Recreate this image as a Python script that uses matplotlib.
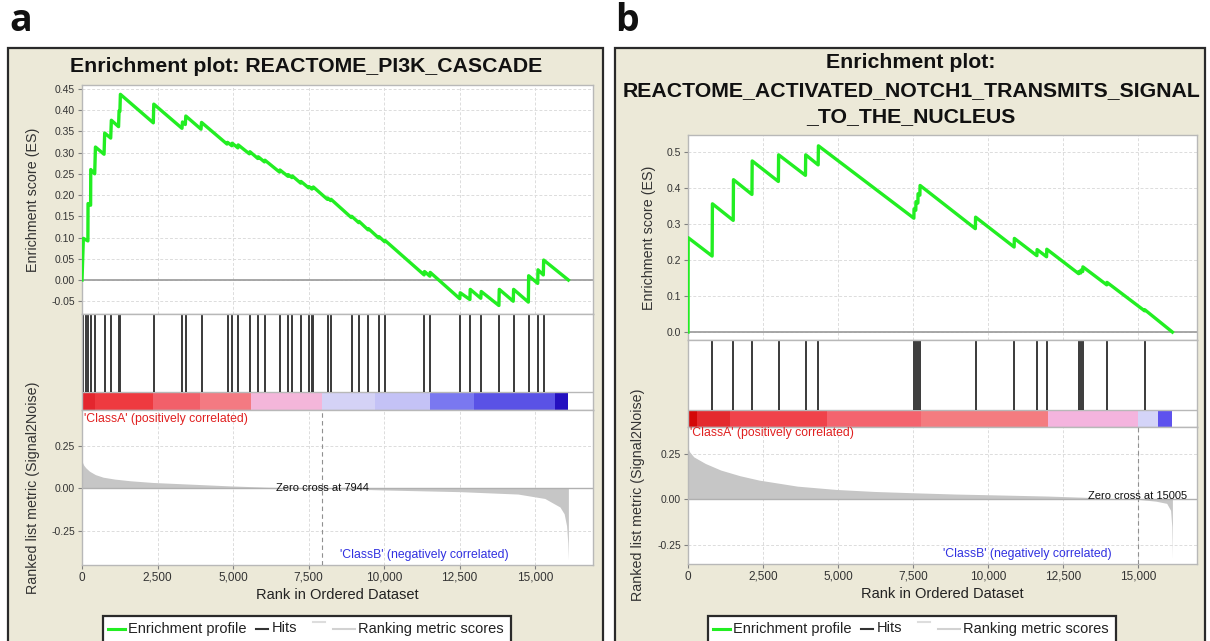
import matplotlib
matplotlib.use("Agg")
import matplotlib.pyplot as plt
from matplotlib.patches import Rectangle
from matplotlib.lines import Line2D

plt.rcParams['font.family'] = ['Liberation Sans', 'DejaVu Sans']
plt.rcParams['axes.unicode_minus'] = False

# ---------------- data: panel a ----------------
a_title = ["Enrichment plot: REACTOME_PI3K_CASCADE"]
a_es_rank = [0, 45, 195, 200, 285, 290, 420, 445, 730, 751, 950, 972, 1210, 1227, 1255, 1271,
             2360, 2376, 3310, 3326, 3420, 3436, 3940, 3956, 4800, 4818, 4960, 4972, 5160, 5171,
             5540, 5558, 5820, 5834, 6040, 6055, 6540, 6552, 6820, 6829, 6950, 6961, 7240, 7249,
             7500, 7514, 7610, 7624, 7645, 7657, 8120, 8133, 8230, 8243, 8915, 8928, 9160, 9171,
             9470, 9481, 9820, 9834, 10020, 10033, 11325, 11337, 11515, 11525, 12505, 12519,
             12840, 12851, 13200, 13215, 13800, 13812, 14275, 14287, 14775, 14785, 15085, 15094,
             15270, 15282, 16100]
a_es_val = [0.000, 0.098, 0.092, 0.180, 0.176, 0.260, 0.250, 0.313, 0.296, 0.346, 0.334, 0.376,
            0.361, 0.398, 0.397, 0.437, 0.370, 0.414, 0.357, 0.372, 0.366, 0.386, 0.355, 0.371,
            0.320, 0.324, 0.316, 0.322, 0.311, 0.318, 0.297, 0.302, 0.286, 0.290, 0.278, 0.282,
            0.254, 0.259, 0.244, 0.248, 0.241, 0.245, 0.228, 0.232, 0.217, 0.220, 0.214, 0.217,
            0.216, 0.219, 0.190, 0.193, 0.187, 0.190, 0.147, 0.150, 0.135, 0.138, 0.118, 0.121,
            0.099, 0.102, 0.090, 0.093, 0.012, 0.020, 0.009, 0.018, -0.044, -0.030, -0.046,
            -0.022, -0.043, -0.027, -0.060, -0.022, -0.050, -0.022, -0.052, 0.010, -0.008, 0.024,
            0.012, 0.047, 0.000]
a_hits = [45, 120, 200, 290, 442, 751, 972, 1227, 1271, 2376, 3326, 3436, 3956, 4818, 4972,
          5171, 5558, 5834, 6055, 6552, 6829, 6961, 7249, 7514, 7624, 7657, 8133, 8243, 8928,
          9171, 9481, 9834, 10033, 11337, 11525, 12519, 12851, 13215, 13812, 14287, 14785,
          15094, 15282]
a_bar_edges = [0, 420, 2354, 3900, 5591, 7934, 9700, 11525, 12961, 15668, 16100]
a_bar_colors = ['#E4262E', '#EE3A40', '#F2606A', '#F47A82', '#F4B6DA', '#D4D2F6', '#C4C2F6',
                '#7A78F0', '#5A52E6', '#2410C0']
a_metric_rank = [0, 20, 60, 127, 250, 445, 700, 1080, 1600, 2350, 3620, 4890, 6160, 7944,
                 9980, 12520, 14430, 15320, 15820, 15960, 16040, 16080, 16100]
a_metric_val = [0.17, 0.15, 0.135, 0.12, 0.10, 0.08, 0.065, 0.054, 0.044, 0.034, 0.024, 0.014,
                0.006, 0.0, -0.01, -0.02, -0.034, -0.06, -0.11, -0.15, -0.22, -0.32, -0.42]
a_zero_cross = 7944
a_es_yticks = [-0.05, 0.00, 0.05, 0.10, 0.15, 0.20, 0.25, 0.30, 0.35, 0.40, 0.45]
a_es_ylabels = ['-0.05', '0.00', '0.05', '0.10', '0.15', '0.20', '0.25', '0.30', '0.35', '0.40', '0.45']

# ---------------- data: panel b ----------------
b_title = ["Enrichment plot:", "REACTOME_ACTIVATED_NOTCH1_TRANSMITS_SIGNAL", "_TO_THE_NUCLEUS"]
b_es_rank = [0, 5, 805, 814, 1508, 1516, 2132, 2140, 3013, 3021, 3916, 3924, 4340, 4348, 7530,
             7536, 7594, 7600, 7664, 7670, 7731, 7737, 9580, 9588, 10873, 10881, 11632, 11639,
             11955, 11962, 13026, 13032, 13094, 13100, 13160, 13166, 13962, 13969, 15222, 15229,
             16150]
b_es_val = [0.0, 0.262, 0.211, 0.356, 0.310, 0.423, 0.382, 0.475, 0.418, 0.492, 0.435, 0.492,
            0.464, 0.517, 0.316, 0.342, 0.338, 0.362, 0.358, 0.384, 0.380, 0.407, 0.287, 0.319,
            0.236, 0.260, 0.212, 0.229, 0.209, 0.230, 0.162, 0.168, 0.164, 0.172, 0.168, 0.181,
            0.131, 0.138, 0.059, 0.062, 0.0]
b_hits = [5, 814, 1516, 2140, 3021, 3924, 4348, 7536, 7600, 7670, 7737, 9588, 10881, 11639,
          11962, 13032, 13100, 13166, 13969, 15229]
b_bar_edges = [0, 290, 1405, 4638, 7759, 11995, 15006, 15674, 16150]
b_bar_colors = ['#D40808', '#E42A2E', '#F0424A', '#F4646E', '#F47C80', '#F4B4DE', '#D4D4F8',
                '#5E52EE']
b_metric_rank = [0, 50, 192, 577, 1090, 1730, 2370, 3650, 4940, 6220, 7500, 8910, 10060, 11990,
                 13270, 15005, 15600, 15960, 16090, 16130, 16150]
b_metric_val = [0.28, 0.26, 0.232, 0.196, 0.16, 0.129, 0.105, 0.072, 0.054, 0.043, 0.036,
                0.029, 0.025, 0.018, 0.011, 0.0, -0.01, -0.022, -0.06, -0.15, -0.32]
b_zero_cross = 15005
b_es_yticks = [0.0, 0.1, 0.2, 0.3, 0.4, 0.5]
b_es_ylabels = ['0.0', '0.1', '0.2', '0.3', '0.4', '0.5']

# shared
x_ticks = [0, 2500, 5000, 7500, 10000, 12500, 15000]
x_ticklabels = ['0', '2,500', '5,000', '7,500', '10,000', '12,500', '15,000']
metric_yticks = [-0.25, 0.00, 0.25]
metric_ylabels = ['-0.25', '0.00', '0.25']
legend_labels = ['Enrichment profile', 'Hits', 'Ranking metric scores']

# ---------------- drawing ----------------
W, H = 1210, 641
fig = plt.figure(figsize=(W / 100, H / 100), dpi=100)
fig.patch.set_facecolor('white')

BEIGE = '#ECE9D8'
GRID = '#DCDCDC'
SPINE = '#B8B8B8'


def px_axes(x0, y0, x1, y1):
    return fig.add_axes([x0 / W, 1 - y1 / H, (x1 - x0) / W, (y1 - y0) / H])


def ftext(x, y, s, **kw):
    return fig.text(x / W, 1 - y / H, s, **kw)


def fline(xs, ys, **kw):
    fig.add_artist(Line2D([x / W for x in xs], [1 - y / H for y in ys],
                          transform=fig.transFigure, **kw))


def style(ax):
    for sp in ax.spines.values():
        sp.set_color(SPINE)
        sp.set_linewidth(1.0)
    ax.tick_params(colors='#808080', labelcolor='#333333', length=3, width=0.8,
                   labelsize=7.5, pad=2)


def panel(box, title_lines, title_ys, ax_es, ax_hit, ax_met, es_rank, es_val, hits,
          bar_edges, bar_colors, m_rank, m_val, zc, es_ylim, es_yticks, es_ylabels,
          met_ylim, xmax, bar_frac, zc_text_y, classA_y, classB_y, es_lab_x, met_lab_x,
          es_lab_y, met_lab_y, leg_x):
    x0, y0, x1, y1 = box
    fig.add_artist(Rectangle((x0 / W, 1 - y1 / H), (x1 - x0) / W, (y1 - y0) / H,
                             transform=fig.transFigure, facecolor=BEIGE,
                             edgecolor='#2A2A2A', linewidth=1.6, zorder=0))
    # title
    for line, ty in zip(title_lines, title_ys):
        ftext((x0 + x1) / 2 + 1, ty, line, ha='center', va='center', fontsize=15.3,
              fontweight='bold', color='#111111')

    # ES axes
    ax = px_axes(*ax_es)
    style(ax)
    ax.set_xlim(0, xmax)
    ax.set_ylim(*es_ylim)
    ax.set_xticks(x_ticks)
    ax.set_xticklabels([])
    ax.tick_params(axis='x', length=0)
    ax.set_yticks(es_yticks)
    ax.set_yticklabels(es_ylabels)
    ax.grid(True, color=GRID, linewidth=0.7, linestyle=(0, (3, 2)))
    ax.axhline(0, color='#A0A0A0', linewidth=1.3, zorder=2)
    ax.plot(es_rank, es_val, color='#22EE22', linewidth=2.4, zorder=3,
            solid_joinstyle='round')
    ax.set_axisbelow(True)

    # hits axes
    ah = px_axes(*ax_hit)
    style(ah)
    ah.set_xlim(0, xmax)
    ah.set_ylim(0, 1)
    ah.set_xticks([])
    ah.set_yticks([])
    for i, c in enumerate(bar_colors):
        ah.axvspan(bar_edges[i], bar_edges[i + 1], ymin=0, ymax=bar_frac, color=c, lw=0)
    ah.axhline(bar_frac, color=SPINE, linewidth=1.0)
    ah.vlines(hits, bar_frac, 1.0, color='#3A3A3A', linewidth=1.4)

    # ranked metric axes
    am = px_axes(*ax_met)
    style(am)
    am.set_xlim(0, xmax)
    am.set_ylim(*met_ylim)
    am.set_xticks(x_ticks)
    am.set_xticklabels(x_ticklabels, fontsize=8.5)
    am.set_yticks(metric_yticks)
    am.set_yticklabels(metric_ylabels)
    am.grid(True, color=GRID, linewidth=0.7, linestyle=(0, (3, 2)))
    am.set_axisbelow(True)
    am.fill_between(m_rank, m_val, 0, color='#C6C6C6', linewidth=0, zorder=2)
    am.axhline(0, color='#B0B0B0', linewidth=1.0, zorder=2)
    am.axvline(zc, color='#909090', linewidth=0.8, linestyle=(0, (4, 3)), zorder=3)
    am.text(zc, zc_text_y, 'Zero cross at %d' % zc, ha='center', va='center',
            fontsize=8, color='#111111', zorder=4)
    am.text(60, classA_y, "'ClassA' (positively correlated)", ha='left', va='center',
            fontsize=8.8, color='#E02020', zorder=4)
    am.text(11320, classB_y, "'ClassB' (negatively correlated)", ha='center',
            va='center', fontsize=8.8, color='#3030E0', zorder=4)
    am.set_xlabel('Rank in Ordered Dataset', fontsize=10.5, color='#222222', labelpad=3)

    # y labels
    ftext(es_lab_x, es_lab_y, 'Enrichment score (ES)', rotation=90, ha='center',
          va='center', fontsize=10.3, color='#333333')
    ftext(met_lab_x, met_lab_y, 'Ranked list metric (Signal2Noise)', rotation=90,
          ha='center', va='center', fontsize=10.3, color='#333333')

    # legend (drawn manually)
    lx = leg_x
    fig.add_artist(Rectangle(((lx) / W, 1 - 660 / H), 408 / W, (660 - 616) / H,
                             transform=fig.transFigure, facecolor='white',
                             edgecolor='#2A2A2A', linewidth=1.6, zorder=5))
    ly = 628.5
    fline([lx + 5, lx + 22], [ly, ly], color='#22EE22', linewidth=2.2, zorder=6)
    ftext(lx + 25, ly, legend_labels[0], ha='left', va='center', fontsize=10.5,
          color='#222222', zorder=6)
    fline([lx + 153, lx + 165], [ly, ly], color='#333333', linewidth=1.5, zorder=6)
    ftext(lx + 169, ly, legend_labels[1], ha='left', va='center', fontsize=10.5,
          color='#222222', zorder=6)
    fline([lx + 210, lx + 222], [ly - 7, ly - 7], color='#DDDDDD', linewidth=1.5, zorder=6)
    fline([lx + 230, lx + 252], [ly, ly], color='#D2D2D2', linewidth=1.5, zorder=6)
    ftext(lx + 255, ly, legend_labels[2], ha='left', va='center', fontsize=10.5,
          color='#222222', zorder=6)


panel((8, 48, 603, 660), a_title, [67],
      (82, 85, 593, 314), (82, 314, 593, 410), (82, 410, 593, 565),
      a_es_rank, a_es_val, a_hits, a_bar_edges, a_bar_colors, a_metric_rank, a_metric_val,
      a_zero_cross, (-0.080, 0.459), a_es_yticks, a_es_ylabels, (-0.451, 0.46), 16915,
      0.1875, 0.0, 0.41, -0.39, 33, 33, 200, 488, 103)

panel((615, 48, 1205, 660), b_title, [63, 91, 117],
      (688, 135, 1197, 340), (688, 340, 1197, 427), (688, 427, 1197, 564),
      b_es_rank, b_es_val, b_hits, b_bar_edges, b_bar_colors, b_metric_rank, b_metric_val,
      b_zero_cross, (-0.022, 0.547), b_es_yticks, b_es_ylabels, (-0.353, 0.395), 16970,
      0.195, 0.02, 0.36, -0.30, 649, 638, 238, 495, 708)

# panel letters
ftext(9, 21, 'a', ha='left', va='center', fontsize=27, fontweight='bold',
      family=['Open Sans', 'DejaVu Sans'], color='#111111')
ftext(615, 21, 'b', ha='left', va='center', fontsize=27, fontweight='bold',
      family=['Open Sans', 'DejaVu Sans'], color='#111111')

fig.savefig('out.png', dpi=100, facecolor='white')
